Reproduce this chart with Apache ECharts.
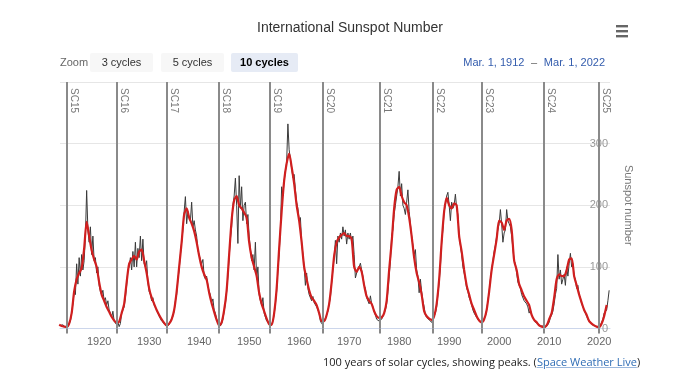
<!DOCTYPE html>
<html>
<head>
<meta charset="utf-8">
<script src="https://cdn.jsdelivr.net/npm/echarts@6/dist/echarts.min.js"></script>
<style>
  html, body { margin: 0; padding: 0; background: #fff; }
  #wrap { position: relative; width: 700px; height: 375px; }
  #chart { width: 700px; height: 375px; }
  #caption {
    position: absolute; left: 323px; top: 354px;
    font-family: "Open Sans", sans-serif; font-size: 11px; color: #222; white-space: nowrap;
  }
  #caption a { color: #2f6db5; text-decoration: underline; text-decoration-color: #9bb8dd; }
</style>
</head>
<body>
<div id="wrap">
  <div id="chart"></div>
  <div id="caption">100 years of solar cycles, showing peaks. (<a>Space Weather Live</a>)</div>
</div>
<script>
// monthly-ish sunspot number, one value per quarter from 1912.25
const blackStart = 1912.25
const blackStep = 0.25
const blackValues = [
  5, 4, 6, 3,  2, 1, 3, 5,  12, 25, 40, 60,  55, 105, 72, 115,  85, 120, 95, 110,
  150, 224, 160, 140,  165, 120, 150, 110,  115, 90, 100, 70,  60, 55, 62, 45,  50, 38, 45, 30,
  25, 18, 28, 12,  12, 6, 10, 3,  8, 25, 22, 35,  50, 70, 95, 100,  115, 95, 125, 100,
  140, 100, 130, 115,  150, 110, 145, 105,  100, 110, 75, 60,  55, 45, 50, 38,  35, 30, 28, 20,
  18, 12, 15, 8,  6, 4, 3, 6,  12, 10, 20, 28,  45, 55, 80, 95,  120, 140, 160, 190,
  214, 170, 190, 180,  175, 205, 165, 175,  160, 150, 127, 130,  112, 105, 112, 85,  80, 85, 70, 60,
  55, 42, 48, 30,  25, 15, 18, 10,  4, 8, 15, 28,  40, 60, 85, 115,  145, 165, 200, 215,
  244, 200, 138, 248,  195, 230, 175, 200,  205, 170, 185, 150,  130, 110, 120, 95,  140, 80, 100, 55,
  45, 38, 50, 25,  22, 12, 15, 8,  3, 5, 12, 22,  40, 60, 95, 120,  160, 230, 215, 240,
  255, 270, 332, 290,  275, 260, 245, 250,  225, 205, 195, 175,  180, 140, 120, 100,  70, 90, 65, 55,
  58, 45, 52, 42,  42, 35, 30, 25,  12, 8, 5, 12,  10, 22, 28, 40,  50, 75, 95, 115,
  143, 105, 150, 140,  155, 145, 165, 150,  160, 137, 155, 145,  155, 140, 150, 120,  82, 90, 95, 100,
  106, 95, 85, 70,  65, 50, 48, 40,  53, 40, 35, 28,  22, 15, 18, 12,  10, 15, 20, 22,
  30, 40, 60, 85,  110, 150, 160, 185,  200, 215, 230, 255,  215, 235, 200, 195,  185, 205, 225, 190,
  170, 150, 135, 120,  128, 95, 85, 58,  80, 60, 45, 35,  22, 18, 15, 14,  12, 10, 15, 18,
  25, 35, 55, 75,  100, 140, 160, 190,  200, 215, 221, 200,  175, 205, 195, 200,  218, 195, 185, 150,
  135, 120, 100, 90,  80, 65, 60, 50,  45, 38, 30, 25,  22, 18, 15, 12,  10, 8, 12, 15,
  20, 30, 45, 60,  80, 95, 110, 125,  135, 150, 160, 170,  193, 170, 140, 155,  160, 193, 175, 170,
  165, 150, 130, 110,  105, 90, 75, 70,  65, 55, 52, 45,  48, 40, 35, 25,  30, 22, 18, 14,
  10, 12, 8, 6,  4, 3, 4, 2,  2, 4, 6, 10,  18, 22, 28, 40,  55, 65, 120, 80,
  95, 72, 80, 88,  70, 100, 85, 105,  122, 100, 105, 85,  80, 65, 70, 55,  50, 40, 38, 30,
  25, 22, 15, 12,  10, 9, 5, 6,  4, 3, 2, 1,  5, 8, 15, 25,  22, 30, 45, 62
]

// smoothed sunspot number, every half year from 1912.0
const redStart = 1912.0
const redStep = 0.5
const redValues = [
  6, 4,  3, 2.5,  8, 25,  60, 80,  90, 98,  130, 173,  150, 127,  112, 100,  75, 55,  45, 35,
  27, 19,  13, 9,  11, 25,  40, 75,  105, 112,  118, 112,  125, 128,  110, 90,  65, 50,  40, 30,
  22, 15,  9, 5,  8, 15,  30, 60,  100, 140,  185, 195,  180, 170,  158, 140,  118, 100,  88, 79,
  58, 41,  27, 14,  5, 10,  30, 62,  120, 176,  208, 215,  200, 195,  188, 180,  140, 115,  100, 85,
  58, 40,  28, 16,  7, 6,  25, 65,  130, 190,  240, 268,  284, 262,  235, 200,  175, 140,  100, 80,
  62, 50,  45, 38,  25, 12,  12, 22,  40, 75,  118, 140,  148, 152,  155, 150,  150, 145,  100, 92,
  100, 92,  70, 52,  45, 40,  28, 20,  17, 18,  25, 45,  95, 140,  195, 225,  230, 215,  205, 200,
  180, 150,  115, 90,  75, 55,  28, 20,  16, 14,  20, 40,  80, 140,  190, 212,  200, 195,  203, 200,
  150, 125,  95, 70,  55, 40,  30, 20,  13, 10,  15, 30,  60, 95,  120, 145,  175, 172,  160, 175,
  178, 160,  110, 95,  72, 62,  52, 45,  38, 22,  14, 10,  5, 3,  2.5, 5,  15, 25,  50, 80,
  88, 85,  85, 95,  112, 114,  85, 70,  55, 42,  30, 22,  12, 8,  5, 3,  2, 8,  20, 38
]

// solar cycle starts
const cycleNames = ['SC15', 'SC16', 'SC17', 'SC18', 'SC19', 'SC20', 'SC21', 'SC22', 'SC23', 'SC24', 'SC25']
const cycleStarts = [1913.5, 1923.6, 1933.6, 1944.0, 1954.2, 1964.7, 1976.2, 1986.7, 1996.6, 2008.9, 2020.0]

const yearTicks = [1920, 1930, 1940, 1950, 1960, 1970, 1980, 1990, 2000, 2010, 2020]
const xMin = 1912.17
const xMax = 2022.17

const blackData = blackValues.map((v, i) => [blackStart + i * blackStep, v])
const redData = redValues.map((v, i) => [redStart + i * redStep, v])
const cycleLabelData = cycleStarts.map((x, i) => [x, 400, cycleNames[i]])

const FONT = '"Liberation Sans", Arial, sans-serif'

const chart = echarts.init(document.getElementById('chart'))

// buttons of the range selector
const buttons = [
  { text: '3 cycles', x: 90, w: 63, active: false },
  { text: '5 cycles', x: 161, w: 63, active: false },
  { text: '10 cycles', x: 231, w: 67, active: true }
]
const buttonGraphics = []
buttons.forEach(b => {
  buttonGraphics.push({
    type: 'rect', left: b.x, top: 53,
    shape: { width: b.w, height: 19, r: 2 },
    style: { fill: b.active ? '#e6ebf5' : '#f7f7f7' }
  })
  buttonGraphics.push({
    type: 'text', x: b.x + b.w / 2, y: 62.5,
    style: {
      text: b.text, fill: b.active ? '#000' : '#333',
      font: (b.active ? 'bold ' : '') + '11px ' + FONT,
      align: 'center', verticalAlign: 'middle'
    }
  })
})

const option = {
  animation: false,
  backgroundColor: '#ffffff',
  textStyle: { fontFamily: FONT },
  title: {
    text: 'International Sunspot Number',
    left: 'center',
    top: 16,
    textStyle: { fontSize: 14, fontWeight: 'normal', color: '#333', fontFamily: FONT }
  },
  graphic: [
    {
      type: 'text', x: 60, y: 62.5,
      style: { text: 'Zoom', fill: '#666', font: '11px ' + FONT, verticalAlign: 'middle' }
    },
    ...buttonGraphics,
    {
      type: 'text', x: 605, y: 62.5,
      style: {
        text: '{d|Mar. 1, 1912}  {s|–}  {d|Mar. 1, 2022}',
        align: 'right', verticalAlign: 'middle',
        rich: {
          d: { fill: '#335cad', font: '11px ' + FONT },
          s: { fill: '#666', font: '11px ' + FONT }
        }
      }
    },
    // export menu icon
    {
      type: 'group', left: 616, top: 25,
      children: [0, 5, 10].map(dy => ({
        type: 'rect', shape: { x: 0, y: dy, width: 12, height: 2.4 },
        style: { fill: '#666' }
      }))
    }
  ],
  grid: { left: 60, right: 90, top: 82, bottom: 46.5 },
  xAxis: {
    type: 'value',
    min: xMin,
    max: xMax,
    axisLine: { lineStyle: { color: '#ccd6eb' } },
    axisTick: {
      show: true, customValues: cycleStarts, length: 5,
      lineStyle: { color: '#888', width: 2 }
    },
    axisLabel: {
      customValues: yearTicks, color: '#666', fontSize: 11, margin: 8,
      formatter: v => String(Math.round(v))
    },
    splitLine: { show: false }
  },
  yAxis: {
    type: 'value',
    position: 'right',
    min: 0,
    max: 400,
    interval: 100,
    name: 'Sunspot number',
    nameLocation: 'middle',
    nameRotate: -90,
    nameGap: 13,
    nameTextStyle: { color: '#777', fontSize: 11 },
    axisLine: { show: false },
    axisTick: { show: false },
    axisLabel: {
      inside: true, margin: 2, color: '#999', fontSize: 11,
      verticalAlign: 'middle', padding: [0, 0, 8, 0],
      showMaxLabel: false
    },
    splitLine: { lineStyle: { color: '#e6e6e6' } }
  },
  series: [
    {
      name: 'Cycles',
      type: 'line',
      data: [],
      z: 1,
      markLine: {
        silent: true,
        symbol: 'none',
        label: { show: false },
        lineStyle: { color: '#8a8a8a', width: 2, type: 'solid' },
        data: cycleStarts.map(x => ({ xAxis: x }))
      }
    },
    {
      name: 'Sunspot number',
      type: 'line',
      data: blackData,
      showSymbol: false,
      z: 2,
      lineStyle: { color: '#3a3a3a', width: 1 }
    },
    {
      name: 'Smoothed',
      type: 'line',
      data: redData,
      showSymbol: false,
      smooth: 0.25,
      z: 3,
      lineStyle: { color: '#d01f1f', width: 2.2 }
    },
    {
      name: 'Cycle labels',
      type: 'scatter',
      data: cycleLabelData,
      symbolSize: 0,
      silent: true,
      z: 4,
      label: {
        show: true,
        formatter: p => p.value[2],
        position: [2, 6],
        rotate: -90,
        align: 'left',
        verticalAlign: 'bottom',
        color: '#555',
        fontSize: 10
      }
    }
  ]
}

chart.setOption(option)
</script>
</body>
</html>
